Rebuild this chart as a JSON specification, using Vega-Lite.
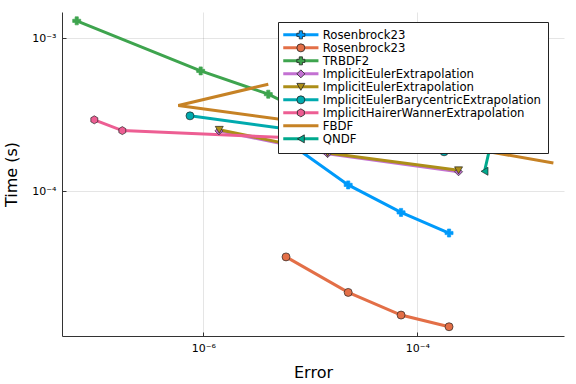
{
  "$schema": "https://vega.github.io/schema/vega-lite/v6.json",
  "width": 502,
  "height": 324,
  "autosize": "none",
  "padding": {"left": 62, "top": 12, "right": 12, "bottom": 48},
  "background": "white",
  "config": {
    "font": "DejaVu Sans",
    "view": {"stroke": null},
    "axis": {
      "grid": true,
      "gridColor": "#000000",
      "gridOpacity": 0.1,
      "gridWidth": 1,
      "domainColor": "#333333",
      "domainWidth": 1,
      "tickColor": "#333333",
      "tickSize": -4,
      "labelFontSize": 11,
      "labelColor": "#000000",
      "titleFontSize": 16,
      "titleFontWeight": "normal",
      "titleColor": "#000000"
    }
  },
  "data": {
    "values": [
      {"series": "1 Rosenbrock23", "marker": "1 Rosenbrock23", "o": 1, "x": 5.93e-6, "y": 2.14e-4},
      {"series": "1 Rosenbrock23", "marker": "1 Rosenbrock23", "o": 2, "x": 2.26e-5, "y": 1.10e-4},
      {"series": "1 Rosenbrock23", "marker": "1 Rosenbrock23", "o": 3, "x": 7.05e-5, "y": 7.27e-5},
      {"series": "1 Rosenbrock23", "marker": "1 Rosenbrock23", "o": 4, "x": 1.98e-4, "y": 5.33e-5},
      {"series": "2 Rosenbrock23", "marker": "2 Rosenbrock23", "o": 1, "x": 5.93e-6, "y": 3.72e-5},
      {"series": "2 Rosenbrock23", "marker": "2 Rosenbrock23", "o": 2, "x": 2.26e-5, "y": 2.18e-5},
      {"series": "2 Rosenbrock23", "marker": "2 Rosenbrock23", "o": 3, "x": 7.05e-5, "y": 1.55e-5},
      {"series": "2 Rosenbrock23", "marker": "2 Rosenbrock23", "o": 4, "x": 1.98e-4, "y": 1.30e-5},
      {"series": "3 TRBDF2", "marker": "3 TRBDF2", "o": 1, "x": 6.56e-8, "y": 1.30e-3},
      {"series": "3 TRBDF2", "marker": "3 TRBDF2", "o": 2, "x": 9.45e-7, "y": 6.12e-4},
      {"series": "3 TRBDF2", "marker": "3 TRBDF2", "o": 3, "x": 4.05e-6, "y": 4.31e-4},
      {"series": "3 TRBDF2", "marker": "3 TRBDF2", "o": 4, "x": 1.9e-5, "y": 2.52e-4},
      {"series": "4 ImplicitEulerExtrapolation", "marker": "4 ImplicitEulerExtrapolation", "o": 1, "x": 1.40e-6, "y": 2.48e-4},
      {"series": "4 ImplicitEulerExtrapolation", "marker": "4 ImplicitEulerExtrapolation", "o": 2, "x": 8.36e-6, "y": 1.92e-4},
      {"series": "4 ImplicitEulerExtrapolation", "marker": "4 ImplicitEulerExtrapolation", "o": 3, "x": 1.45e-5, "y": 1.76e-4},
      {"series": "4 ImplicitEulerExtrapolation", "marker": "4 ImplicitEulerExtrapolation", "o": 4, "x": 2.43e-4, "y": 1.34e-4},
      {"series": "5 ImplicitEulerExtrapolation", "marker": "5 ImplicitEulerExtrapolation", "o": 1, "x": 1.41e-6, "y": 2.52e-4},
      {"series": "5 ImplicitEulerExtrapolation", "marker": "5 ImplicitEulerExtrapolation", "o": 2, "x": 8.36e-6, "y": 1.95e-4},
      {"series": "5 ImplicitEulerExtrapolation", "marker": "5 ImplicitEulerExtrapolation", "o": 3, "x": 1.45e-5, "y": 1.78e-4},
      {"series": "5 ImplicitEulerExtrapolation", "marker": "5 ImplicitEulerExtrapolation", "o": 4, "x": 2.43e-4, "y": 1.37e-4},
      {"series": "6 ImplicitEulerBarycentricExtrapolation", "marker": "6 ImplicitEulerBarycentricExtrapolation", "o": 1, "x": 7.51e-7, "y": 3.11e-4},
      {"series": "6 ImplicitEulerBarycentricExtrapolation", "marker": "6 ImplicitEulerBarycentricExtrapolation", "o": 2, "x": 1.53e-5, "y": 2.34e-4},
      {"series": "6 ImplicitEulerBarycentricExtrapolation", "marker": "6 ImplicitEulerBarycentricExtrapolation", "o": 3, "x": 1.78e-4, "y": 1.81e-4},
      {"series": "7 ImplicitHairerWannerExtrapolation", "marker": "7 ImplicitHairerWannerExtrapolation", "o": 1, "x": 9.58e-8, "y": 2.93e-4},
      {"series": "7 ImplicitHairerWannerExtrapolation", "marker": "7 ImplicitHairerWannerExtrapolation", "o": 2, "x": 1.75e-7, "y": 2.49e-4},
      {"series": "7 ImplicitHairerWannerExtrapolation", "marker": "7 ImplicitHairerWannerExtrapolation", "o": 3, "x": 1.9e-5, "y": 2.17e-4},
      {"series": "8 FBDF", "marker": "8 FBDF", "o": 1, "x": 4.05e-6, "y": 5.01e-4},
      {"series": "8 FBDF", "marker": "8 FBDF", "o": 2, "x": 5.84e-7, "y": 3.63e-4},
      {"series": "8 FBDF", "marker": "8 FBDF", "o": 3, "x": 4.48e-5, "y": 2.41e-4},
      {"series": "8 FBDF", "marker": "8 FBDF", "o": 4, "x": 1.87e-3, "y": 1.53e-4},
      {"series": "9 QNDF", "marker": "9 QNDF", "o": 1, "x": 1.06e-4, "y": 3.67e-4},
      {"series": "9 QNDF", "marker": "9 QNDF", "o": 2, "x": 5.21e-4, "y": 2.52e-4},
      {"series": "9 QNDF", "marker": "9 QNDF", "o": 3, "x": 4.25e-4, "y": 1.35e-4}
    ]
  },
  "layer": [
    {
      "mark": {"type": "line", "strokeWidth": 3},
      "encoding": {
        "x": {
          "field": "x", "type": "quantitative", "title": "Error",
          "scale": {"type": "log", "domain": [4.78e-8, 2.35e-3], "nice": false},
          "axis": {"values": [1e-6, 1e-4], "labelExpr": "datum.value < 1e-5 ? '10⁻⁶' : '10⁻⁴'", "labelPadding": 10, "titlePadding": 11}
        },
        "y": {
          "field": "y", "type": "quantitative", "title": "Time (s)",
          "scale": {"type": "log", "domain": [1.131e-5, 1.485e-3], "nice": false},
          "axis": {"values": [1e-4, 1e-3], "labelExpr": "datum.value < 5e-4 ? '10⁻⁴' : '10⁻³'", "labelPadding": 10, "titlePadding": 12}
        },
        "color": {
          "field": "series", "type": "nominal",
          "scale": {"range": ["#009AFA", "#E36F47", "#3EA44E", "#C371D2", "#AC8E18", "#00AAAE", "#ED5E93", "#C68225", "#00A98D"]},
          "legend": {
            "title": null, "orient": "none", "legendX": 216, "legendY": 10, "padding": 7,
            "fillColor": "white", "strokeColor": "#222222", "cornerRadius": 0,
            "symbolType": "M-4.4,0H4.4", "symbolSize": 64, "symbolStrokeWidth": 3, "symbolOffset": 10,
            "labelOffset": 16, "labelFontSize": 11.7, "labelLimit": 400, "labelColor": "#000000",
            "rowPadding": -1, "labelExpr": "substring(datum.label, 2)", "zindex": 1
          }
        },
        "order": {"field": "o", "type": "quantitative"}
      }
    },
    {
      "mark": {"type": "point", "filled": true, "size": 64, "strokeWidth": 0.8, "opacity": 1},
      "encoding": {
        "x": {"field": "x", "type": "quantitative"},
        "y": {"field": "y", "type": "quantitative"},
        "fill": {
          "field": "marker", "type": "nominal",
          "scale": {"range": ["#009AFA", "#E36F47", "#3EA44E", "#C371D2", "#AC8E18", "#00AAAE", "#ED5E93", "#C68225", "#00A98D"]},
          "legend": {
            "title": null, "orient": "none", "legendX": 216, "legendY": 10, "padding": 7,
            "symbolSize": 64, "symbolStrokeWidth": 0.8, "symbolOffset": 10,
            "labelOffset": 16, "labelFontSize": 11.7, "labelLimit": 400,
            "rowPadding": -1, "labelExpr": "''", "zindex": 2,
            "encode": {"symbols": {"update": {"stroke": {"signal": "datum.value == '1 Rosenbrock23' ? '#009AFA' : datum.value == '3 TRBDF2' ? '#3EA44E' : '#222222'"}, "strokeOpacity": {"value": 0.85}}}}
          }
        },
        "shape": {
          "field": "marker", "type": "nominal",
          "scale": {"range": ["cross", "circle", "cross", "diamond", "triangle-down", "circle", "M0,-1L0.866,-0.5L0.866,0.5L0,1L-0.866,0.5L-0.866,-0.5Z", "M0,0Z", "triangle-left"]},
          "legend": {
            "title": null, "orient": "none", "legendX": 216, "legendY": 10, "padding": 7,
            "symbolSize": 64, "symbolStrokeWidth": 0.8, "symbolOffset": 10,
            "labelOffset": 16, "labelFontSize": 11.7, "labelLimit": 400,
            "rowPadding": -1, "labelExpr": "''", "zindex": 2,
            "encode": {"symbols": {"update": {"stroke": {"signal": "datum.value == '1 Rosenbrock23' ? '#009AFA' : datum.value == '3 TRBDF2' ? '#3EA44E' : '#222222'"}, "strokeOpacity": {"value": 0.85}}}}
          }
        },
        "stroke": {
          "condition": [
            {"test": "datum.marker == '1 Rosenbrock23'", "value": "#009AFA"},
            {"test": "datum.marker == '3 TRBDF2'", "value": "#3EA44E"}
          ],
          "value": "#222222"
        },
        "strokeOpacity": {"value": 0.85}
      }
    }
  ]
}
